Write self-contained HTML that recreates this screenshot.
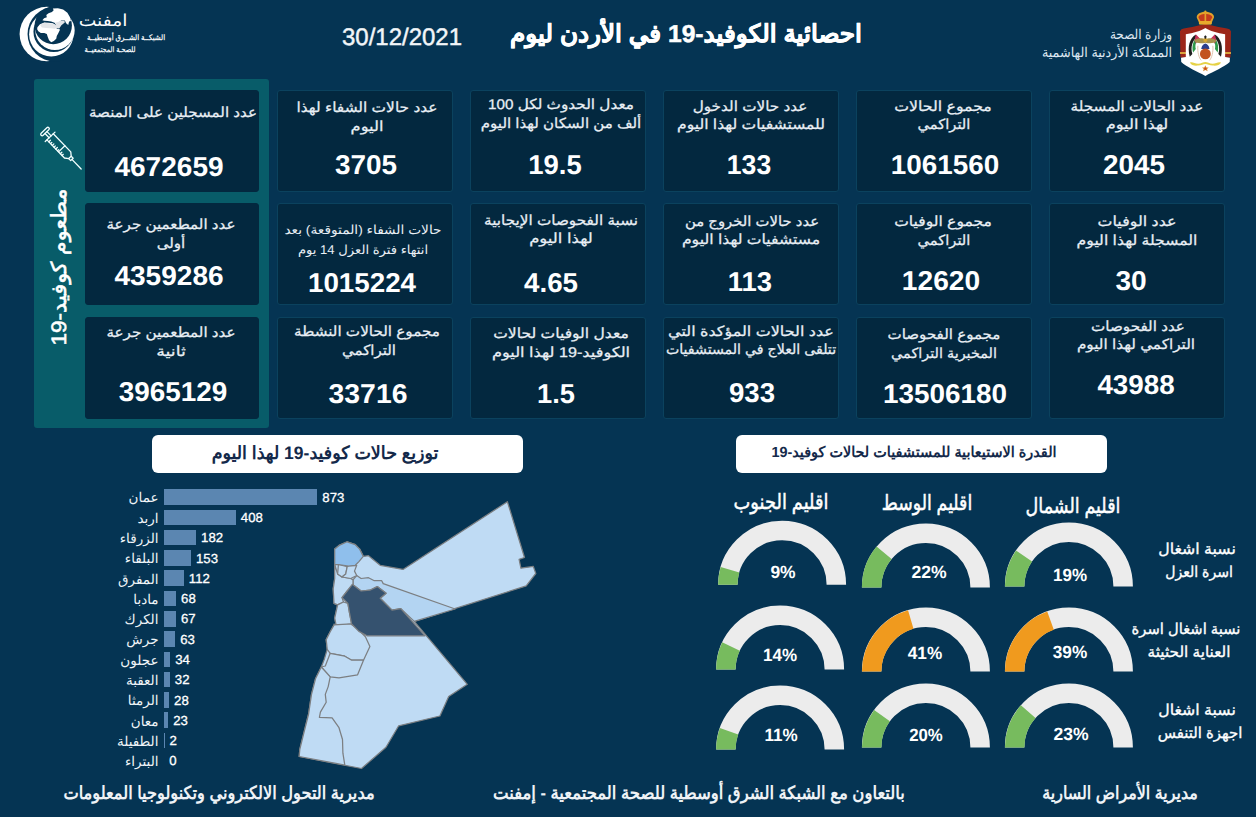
<!DOCTYPE html><html lang="ar"><head><meta charset="utf-8"><title>COVID-19 Jordan</title><style>

*{box-sizing:border-box;margin:0;padding:0}
html,body{width:1256px;height:817px;overflow:hidden}
body{background:#053453;font-family:"Liberation Sans",sans-serif;color:#fff;position:relative;text-rendering:geometricPrecision}
.abs{position:absolute}
.card{position:absolute;background:#03283f;border:1px solid #0b425e;border-radius:3px}
.tx{position:absolute;white-space:nowrap;transform-origin:50% 50%}
.c{position:absolute;white-space:nowrap;transform:translate(-50%,-50%);direction:rtl}

</style></head><body>
<div class="abs" style="left:33.5px;top:79px;width:235.5px;height:349px;background:#085c69;border-radius:3px"></div>
<!-- EMPHNET logo -->
<svg class="abs" style="left:10px;top:0;width:80px;height:70px" viewBox="0 0 934 817">
  <circle cx="430" cy="398" r="318" fill="#ffffff"/>
  <circle cx="526" cy="398" r="321" fill="#053453"/>
  <circle cx="482" cy="400" r="259" fill="#ffffff"/>
  <circle cx="510" cy="370" r="236" fill="#053453"/>
  <circle cx="525" cy="355" r="230" fill="#ffffff"/>
  <circle cx="505" cy="298" r="218" fill="#053453"/>
  <path d="M500 100 L560 95 L620 110 L670 150 L700 200 L712 245 L690 250 L680 292 L655 270 L640 240 L600 235 L572 262 L585 300 L570 332 L545 300 L520 265 L480 252 L440 246 L400 242 L378 236 L398 214 L430 200 L424 176 L450 155 L490 140 L510 120 Z" fill="#ffffff"/>
  <path d="M320 318 L350 284 L400 262 L450 266 L500 272 L530 290 L545 332 L585 345 L562 390 L546 420 L540 452 L512 480 L482 492 L456 470 L440 430 L430 396 L400 386 L360 386 L330 366 L317 340 Z" fill="#ffffff"/>
  <path d="M350 290 L400 266 L450 270 L500 276 L528 292 L540 296 L522 266 L560 258 L600 238 L636 242 L640 262 L600 296 L575 332 L545 328 L520 336 L470 330 L420 326 L372 322 Z" fill="#e3e5e8"/>
</svg>

<!-- Title + date -->

<!-- Ministry text -->

<!-- Coat of arms -->
<svg class="abs" style="left:1170px;top:0;width:70px;height:85px" viewBox="0 0 673 817">
  <!-- mantle -->
  <path d="M340 226 C250 258 170 266 110 280 L96 300 L100 552 L156 556 L156 360 L524 360 L526 556 L582 552 L586 300 L572 280 C512 266 430 258 340 226 Z" fill="#9c2619"/><path d="M96 500 H156 V520 H96 Z M526 500 H586 V520 H526 Z" fill="#d9a23a"/>
  <!-- shield -->
  <path d="M340 268 C300 296 220 316 152 330 L152 548 L106 556 L108 596 C150 640 270 690 340 730 C410 690 530 640 574 596 L576 556 L530 548 L530 330 C460 316 380 296 340 268 Z" fill="#ffffff"/>
  <!-- crown -->
  <path d="M286 234 L258 170 C250 132 296 116 340 110 C384 116 430 132 422 170 L394 234 Z" fill="#e3a02a"/>
  <path d="M294 205 L274 168 C272 146 304 136 340 134 C376 136 408 146 406 168 L386 205 Z" fill="#c43b1d"/>
  <rect x="278" y="202" width="124" height="34" rx="8" fill="#e8a92c"/>
  <circle cx="340" cy="110" r="10" fill="#e8a92c"/>
  <rect x="332" y="132" width="16" height="70" fill="#e3a02a"/>
  <!-- flags left -->
  <path d="M245 335 C190 370 165 450 190 545 L215 520 C195 450 215 390 262 350 Z" fill="#1f1f1f"/>
  <path d="M262 350 C222 392 208 440 222 505 L248 470 C238 430 250 395 285 372 Z" fill="#2f9a4b"/>
  <path d="M248 330 L290 372 C268 385 256 400 250 420 L236 390 Z" fill="#c8325a"/>
  <!-- flags right -->
  <path d="M435 335 C490 370 515 450 490 545 L465 520 C485 450 465 390 418 350 Z" fill="#1f1f1f"/>
  <path d="M418 350 C458 392 472 440 458 505 L432 470 C442 430 430 395 395 372 Z" fill="#2f9a4b"/>
  <path d="M432 330 L390 372 C412 385 424 400 430 420 L444 390 Z" fill="#c8325a"/>
  <!-- eagle -->
  <path d="M232 392 C260 360 310 362 340 378 C370 362 420 360 448 392 C430 418 380 420 340 410 C300 420 250 418 232 392 Z" fill="#a8924c"/>
  <circle cx="340" cy="385" r="20" fill="#d9a832"/>
  <path d="M328 350 L340 338 L352 350 L346 372 L334 372 Z" fill="#222"/>
  <!-- globe -->
  <path d="M300 470 C305 435 325 420 340 418 C355 420 375 435 380 470 Z" fill="#2b3f8e"/>
  <circle cx="340" cy="518" r="52" fill="#c2521f"/>
  <path d="M268 440 C262 500 280 560 300 580 M412 440 C418 500 400 560 380 580" stroke="#d9b8a0" stroke-width="8" fill="none"/>
  <!-- ribbon -->
  <path d="M192 600 C215 590 240 612 270 612 C300 612 320 596 340 596 C360 596 380 612 410 612 C440 612 465 590 490 600 C480 630 440 634 410 630 C380 628 360 616 340 616 C320 616 300 628 270 630 C240 634 202 630 192 600 Z" fill="#e6d247"/>
  <!-- medal -->
  <path d="M340 628 L350 648 L372 650 L356 664 L362 686 L340 674 L318 686 L324 664 L308 650 L330 648 Z" fill="#d9892b"/>
  <circle cx="340" cy="660" r="11" fill="#c9431f"/>
</svg>

<div class="card" style="left:84.5px;top:90.0px;width:174.3px;height:101.5px;border-color:#03283f"></div>
<div class="card" style="left:277.0px;top:90.0px;width:175.5px;height:101.5px"></div>
<div class="card" style="left:470.0px;top:90.0px;width:175.5px;height:101.5px"></div>
<div class="card" style="left:663.0px;top:90.0px;width:175.5px;height:101.5px"></div>
<div class="card" style="left:856.0px;top:90.0px;width:175.5px;height:101.5px"></div>
<div class="card" style="left:1049.0px;top:90.0px;width:175.5px;height:101.5px"></div>
<div class="card" style="left:84.5px;top:203.0px;width:174.3px;height:101.5px;border-color:#03283f"></div>
<div class="card" style="left:277.0px;top:203.0px;width:175.5px;height:101.5px"></div>
<div class="card" style="left:470.0px;top:203.0px;width:175.5px;height:101.5px"></div>
<div class="card" style="left:663.0px;top:203.0px;width:175.5px;height:101.5px"></div>
<div class="card" style="left:856.0px;top:203.0px;width:175.5px;height:101.5px"></div>
<div class="card" style="left:1049.0px;top:203.0px;width:175.5px;height:101.5px"></div>
<div class="card" style="left:84.5px;top:317.0px;width:174.3px;height:101.5px;border-color:#03283f"></div>
<div class="card" style="left:277.0px;top:317.0px;width:175.5px;height:101.5px"></div>
<div class="card" style="left:470.0px;top:317.0px;width:175.5px;height:101.5px"></div>
<div class="card" style="left:663.0px;top:317.0px;width:175.5px;height:101.5px"></div>
<div class="card" style="left:856.0px;top:317.0px;width:175.5px;height:101.5px"></div>
<div class="card" style="left:1049.0px;top:317.0px;width:175.5px;height:101.5px"></div>
<!-- syringe icon -->
<svg class="abs" style="left:34px;top:115px;width:56px;height:60px" viewBox="34 115 56 60">
  <g transform="translate(44 130.5) rotate(46)" fill="none" stroke="#f4ffff" stroke-width="1.3" stroke-linecap="round" stroke-linejoin="round">
    <rect x="0" y="-5.4" width="2.9" height="10.8" rx="1.45"/>
    <path d="M2.9 -1.4 H8.8 M2.9 1.4 H8.8"/>
    <path d="M8.8 -6.8 V6.8"/>
    <path d="M8.8 -4.4 H34 L37.4 -1.7 V1.7 L34 4.4 H8.8"/>
    <path d="M25.5 -4.4 V4.4"/>
    <path d="M37.4 -1.7 H40.2 V1.7 H37.4"/>
    <path d="M40.2 0 H53.5"/>
    <path d="M11.5 4.4 V2.2 M14 4.4 V2.7 M16.5 4.4 V2.2 M19 4.4 V2.7 M21.5 4.4 V2.2 M24 4.4 V2.7 M28 4.4 V2.2 M30.5 4.4 V2.7"/>
  </g>
</svg>
<div class="c" id="vtxt" style="left:60.3px;top:267.2px;font-size:21px;line-height:24px;font-weight:normal;-webkit-text-stroke:0.55px #fff;color:#fff;transform:translate(-50%,-50%) rotate(-90deg) scaleX(1.07)">مطعوم كوفيد-19</div>

<div class="abs" style="left:151.5px;top:435px;width:371px;height:37.5px;background:#fff;border-radius:6px"></div>
<div class="abs" style="left:735.5px;top:435px;width:371px;height:37.5px;background:#fff;border-radius:6px"></div>
<div class="abs" style="left:164.2px;top:489.3px;width:153.1px;height:15.5px;background:#5b86b1"></div>
<div class="abs bl" style="left:50px;width:108.5px;top:488.4px;height:19.5px;line-height:19.5px;text-align:right;direction:rtl;font-size:13.5px;color:#f0f4f8;white-space:nowrap">عمان</div>
<div class="abs bv" style="left:322.3px;top:487.7px;height:19.5px;line-height:19.5px;font-size:13.2px;color:#fff;-webkit-text-stroke:0.3px #fff;white-space:nowrap">873</div>
<div class="abs" style="left:164.2px;top:509.6px;width:71.6px;height:15.5px;background:#5b86b1"></div>
<div class="abs bl" style="left:50px;width:108.5px;top:508.7px;height:19.5px;line-height:19.5px;text-align:right;direction:rtl;font-size:13.5px;color:#f0f4f8;white-space:nowrap">اربد</div>
<div class="abs bv" style="left:240.8px;top:508.0px;height:19.5px;line-height:19.5px;font-size:13.2px;color:#fff;-webkit-text-stroke:0.3px #fff;white-space:nowrap">408</div>
<div class="abs" style="left:164.2px;top:529.9px;width:31.9px;height:15.5px;background:#5b86b1"></div>
<div class="abs bl" style="left:50px;width:108.5px;top:529.0px;height:19.5px;line-height:19.5px;text-align:right;direction:rtl;font-size:13.5px;color:#f0f4f8;white-space:nowrap">الزرقاء</div>
<div class="abs bv" style="left:201.1px;top:528.3px;height:19.5px;line-height:19.5px;font-size:13.2px;color:#fff;-webkit-text-stroke:0.3px #fff;white-space:nowrap">182</div>
<div class="abs" style="left:164.2px;top:550.1px;width:26.8px;height:15.5px;background:#5b86b1"></div>
<div class="abs bl" style="left:50px;width:108.5px;top:549.2px;height:19.5px;line-height:19.5px;text-align:right;direction:rtl;font-size:13.5px;color:#f0f4f8;white-space:nowrap">البلقاء</div>
<div class="abs bv" style="left:196.0px;top:548.5px;height:19.5px;line-height:19.5px;font-size:13.2px;color:#fff;-webkit-text-stroke:0.3px #fff;white-space:nowrap">153</div>
<div class="abs" style="left:164.2px;top:570.4px;width:19.6px;height:15.5px;background:#5b86b1"></div>
<div class="abs bl" style="left:50px;width:108.5px;top:569.5px;height:19.5px;line-height:19.5px;text-align:right;direction:rtl;font-size:13.5px;color:#f0f4f8;white-space:nowrap">المفرق</div>
<div class="abs bv" style="left:188.8px;top:568.8px;height:19.5px;line-height:19.5px;font-size:13.2px;color:#fff;-webkit-text-stroke:0.3px #fff;white-space:nowrap">112</div>
<div class="abs" style="left:164.2px;top:590.7px;width:11.9px;height:15.5px;background:#5b86b1"></div>
<div class="abs bl" style="left:50px;width:108.5px;top:589.8px;height:19.5px;line-height:19.5px;text-align:right;direction:rtl;font-size:13.5px;color:#f0f4f8;white-space:nowrap">مادبا</div>
<div class="abs bv" style="left:181.1px;top:589.1px;height:19.5px;line-height:19.5px;font-size:13.2px;color:#fff;-webkit-text-stroke:0.3px #fff;white-space:nowrap">68</div>
<div class="abs" style="left:164.2px;top:611.0px;width:11.7px;height:15.5px;background:#5b86b1"></div>
<div class="abs bl" style="left:50px;width:108.5px;top:610.1px;height:19.5px;line-height:19.5px;text-align:right;direction:rtl;font-size:13.5px;color:#f0f4f8;white-space:nowrap">الكرك</div>
<div class="abs bv" style="left:180.9px;top:609.4px;height:19.5px;line-height:19.5px;font-size:13.2px;color:#fff;-webkit-text-stroke:0.3px #fff;white-space:nowrap">67</div>
<div class="abs" style="left:164.2px;top:631.3px;width:11.0px;height:15.5px;background:#5b86b1"></div>
<div class="abs bl" style="left:50px;width:108.5px;top:630.4px;height:19.5px;line-height:19.5px;text-align:right;direction:rtl;font-size:13.5px;color:#f0f4f8;white-space:nowrap">جرش</div>
<div class="abs bv" style="left:180.2px;top:629.7px;height:19.5px;line-height:19.5px;font-size:13.2px;color:#fff;-webkit-text-stroke:0.3px #fff;white-space:nowrap">63</div>
<div class="abs" style="left:164.2px;top:651.5px;width:6.0px;height:15.5px;background:#5b86b1"></div>
<div class="abs bl" style="left:50px;width:108.5px;top:650.6px;height:19.5px;line-height:19.5px;text-align:right;direction:rtl;font-size:13.5px;color:#f0f4f8;white-space:nowrap">عجلون</div>
<div class="abs bv" style="left:175.2px;top:649.9px;height:19.5px;line-height:19.5px;font-size:13.2px;color:#fff;-webkit-text-stroke:0.3px #fff;white-space:nowrap">34</div>
<div class="abs" style="left:164.2px;top:671.8px;width:5.6px;height:15.5px;background:#5b86b1"></div>
<div class="abs bl" style="left:50px;width:108.5px;top:670.9px;height:19.5px;line-height:19.5px;text-align:right;direction:rtl;font-size:13.5px;color:#f0f4f8;white-space:nowrap">العقبة</div>
<div class="abs bv" style="left:174.8px;top:670.2px;height:19.5px;line-height:19.5px;font-size:13.2px;color:#fff;-webkit-text-stroke:0.3px #fff;white-space:nowrap">32</div>
<div class="abs" style="left:164.2px;top:692.1px;width:4.9px;height:15.5px;background:#5b86b1"></div>
<div class="abs bl" style="left:50px;width:108.5px;top:691.2px;height:19.5px;line-height:19.5px;text-align:right;direction:rtl;font-size:13.5px;color:#f0f4f8;white-space:nowrap">الرمثا</div>
<div class="abs bv" style="left:174.1px;top:690.5px;height:19.5px;line-height:19.5px;font-size:13.2px;color:#fff;-webkit-text-stroke:0.3px #fff;white-space:nowrap">28</div>
<div class="abs" style="left:164.2px;top:712.4px;width:4.0px;height:15.5px;background:#5b86b1"></div>
<div class="abs bl" style="left:50px;width:108.5px;top:711.5px;height:19.5px;line-height:19.5px;text-align:right;direction:rtl;font-size:13.5px;color:#f0f4f8;white-space:nowrap">معان</div>
<div class="abs bv" style="left:173.2px;top:710.8px;height:19.5px;line-height:19.5px;font-size:13.2px;color:#fff;-webkit-text-stroke:0.3px #fff;white-space:nowrap">23</div>
<div class="abs" style="left:164.2px;top:732.7px;width:0.6px;height:15.5px;background:#5b86b1"></div>
<div class="abs bl" style="left:50px;width:108.5px;top:731.8px;height:19.5px;line-height:19.5px;text-align:right;direction:rtl;font-size:13.5px;color:#f0f4f8;white-space:nowrap">الطفيلة</div>
<div class="abs bv" style="left:169.6px;top:731.1px;height:19.5px;line-height:19.5px;font-size:13.2px;color:#fff;-webkit-text-stroke:0.3px #fff;white-space:nowrap">2</div>
<div class="abs bl" style="left:50px;width:108.5px;top:752.0px;height:19.5px;line-height:19.5px;text-align:right;direction:rtl;font-size:13.5px;color:#f0f4f8;white-space:nowrap">البتراء</div>
<div class="abs bv" style="left:169.2px;top:751.3px;height:19.5px;line-height:19.5px;font-size:13.2px;color:#fff;-webkit-text-stroke:0.3px #fff;white-space:nowrap">0</div>
<svg class="abs" style="left:290px;top:490px;width:260px;height:290px" viewBox="290 490 260 290">
<path d="M507.4 501.7 L524.5 557.5 L519.1 559.3 L520.9 568.2 L533.3 566.4 L535.8 573.5 L526.2 585.9 L414.3 621.4 L467.3 684.3 L448.7 696.4 L439.9 716.0 L398.7 725.8 L386.0 747.3 L361.5 768.5 L299.2 756.5 L299.8 749.3 L303.7 733.6 L308.6 714.0 L311.5 694.4 L315.5 678.8 L321.3 667.0 L324.3 659.2 L327.2 649.4 L326.2 639.6 L330.2 631.8 L334.1 624.9 L334.0 624.0 L336.2 625.5 L334.7 618.1 L337.6 604.9 L334.0 603.4 L333.2 588.8 L334.7 578.5 L334.7 564.5 L334.7 549.1 L339.1 545.4 L347.2 541.8 L355.3 544.7 L359.7 549.1 L363.3 556.4 L368.5 555.7 L380.2 565.3 L403.0 569.4 Z" fill="#bfdbf4" stroke="#7c7f82" stroke-width="1.25" stroke-linejoin="round"/>
<path d="M353.0 579.9 L356.7 575.5 L361.1 578.5 L368.5 577.7 L374.3 580.7 L381.7 580.7 L383.2 583.6 L455.2 609.0 L414.3 621.4 L400.8 608.6 L392.0 610.1 L380.2 598.3 L386.1 593.2 L377.3 586.6 L369.9 590.2 L361.1 591.0 L352.3 584.3 L353.0 585.1 Z" fill="#b3d4f2" stroke="#7c7f82" stroke-width="1.25" stroke-linejoin="round"/>
<path d="M334.7 564.5 L337.6 574.1 L342.0 577.0 L350.8 578.5 L353.0 579.9 L353.0 585.1 L347.2 591.0 L342.0 597.6 L343.5 602.0 L337.6 604.9 L334.0 603.4 L333.2 588.8 L334.7 578.5 Z" fill="#bfdbf4" stroke="#7c7f82" stroke-width="1.25" stroke-linejoin="round"/>
<path d="M337.6 604.9 L343.5 602.0 L347.9 603.4 L349.4 612.3 L351.6 624.0 L336.2 625.5 L334.7 618.1 Z" fill="#bfdbf4" stroke="#7c7f82" stroke-width="1.25" stroke-linejoin="round"/>
<path d="M334.1 624.9 L350.7 623.9 L356.6 627.8 L365.4 636.7 L369.9 646.4 L363.5 660.2 L351.7 660.2 L344.8 656.2 L330.2 653.3 L327.2 649.4 L326.2 639.6 L330.2 631.8 Z" fill="#bfdbf4" stroke="#7c7f82" stroke-width="1.25" stroke-linejoin="round"/>
<path d="M330.2 653.3 L344.8 656.2 L351.7 660.2 L363.5 660.2 L357.6 674.8 L339.0 677.8 L330.2 676.8 L321.3 667.0 L325.3 666.0 Z" fill="#bfdbf4" stroke="#7c7f82" stroke-width="1.25" stroke-linejoin="round"/>
<path d="M330.2 676.8 L328.2 686.6 L325.3 694.4 L326.2 702.3 L320.4 712.1 L319.4 717.4 L332.1 717.9 L339.0 727.7 L342.5 739.5 L342.9 753.2 L344.8 765.0 L299.2 756.5 L299.8 749.3 L303.7 733.6 L308.6 714.0 L311.5 694.4 L315.5 678.8 L321.3 667.0 Z" fill="#bfdbf4" stroke="#7c7f82" stroke-width="1.25" stroke-linejoin="round"/>
<path d="M338.4 564.5 L347.2 566.7 L345.7 574.1 L342.0 577.0 L337.6 574.1 Z" fill="#bfdbf4" stroke="#7c7f82" stroke-width="1.25" stroke-linejoin="round"/>
<path d="M348.6 566.0 L356.7 565.3 L354.5 571.1 L356.7 575.5 L350.8 578.5 L342.0 577.0 L345.7 574.1 L347.2 566.7 Z" fill="#bfdbf4" stroke="#7c7f82" stroke-width="1.25" stroke-linejoin="round"/>
<path d="M334.7 549.1 L339.1 545.4 L347.2 541.8 L355.3 544.7 L359.7 549.1 L363.3 556.4 L358.9 561.6 L355.3 565.3 L348.6 566.0 L338.4 564.5 L334.7 564.5 Z" fill="#8fbfec" stroke="#7c7f82" stroke-width="1.25" stroke-linejoin="round"/>
<path d="M342.0 597.6 L347.2 591.0 L352.3 584.3 L361.1 591.0 L369.9 590.2 L377.3 586.6 L386.1 593.2 L380.2 598.3 L392.0 610.1 L400.8 608.6 L425.0 635.8 L367.0 635.8 L358.9 631.4 L351.6 624.0 L349.4 612.3 L347.9 603.4 Z" fill="#35526f" stroke="#7c7f82" stroke-width="1.25" stroke-linejoin="round"/>
</svg>
<svg class="abs" style="left:700px;top:510px;width:450px;height:250px" viewBox="700 510 450 250">
<path d="M727.85 584.80 A54.25 54.25 0 0 1 836.35 584.80" fill="none" stroke="#ececec" stroke-width="19.5"/>
<path d="M727.85 584.80 A54.25 54.25 0 0 1 730.00 569.66" fill="none" stroke="#77bb5e" stroke-width="19.5"/>
<path d="M871.65 587.40 A54.25 54.25 0 0 1 980.15 587.40" fill="none" stroke="#ececec" stroke-width="19.5"/>
<path d="M871.65 587.40 A54.25 54.25 0 0 1 884.10 552.82" fill="none" stroke="#77bb5e" stroke-width="19.5"/>
<path d="M1014.65 586.50 A54.25 54.25 0 0 1 1123.15 586.50" fill="none" stroke="#ececec" stroke-width="19.5"/>
<path d="M1014.65 586.50 A54.25 54.25 0 0 1 1024.03 556.01" fill="none" stroke="#77bb5e" stroke-width="19.5"/>
<path d="M725.85 669.60 A54.25 54.25 0 0 1 834.35 669.60" fill="none" stroke="#ececec" stroke-width="19.5"/>
<path d="M725.85 669.60 A54.25 54.25 0 0 1 731.01 646.50" fill="none" stroke="#77bb5e" stroke-width="19.5"/>
<path d="M871.65 671.60 A54.25 54.25 0 0 1 980.15 671.60" fill="none" stroke="#ececec" stroke-width="19.5"/>
<path d="M871.65 671.60 A54.25 54.25 0 0 1 910.76 619.50" fill="none" stroke="#f09a1e" stroke-width="19.5"/>
<path d="M1014.65 671.60 A54.25 54.25 0 0 1 1123.15 671.60" fill="none" stroke="#ececec" stroke-width="19.5"/>
<path d="M1014.65 671.60 A54.25 54.25 0 0 1 1050.52 620.56" fill="none" stroke="#f09a1e" stroke-width="19.5"/>
<path d="M725.85 749.60 A54.25 54.25 0 0 1 834.35 749.60" fill="none" stroke="#ececec" stroke-width="19.5"/>
<path d="M725.85 749.60 A54.25 54.25 0 0 1 729.06 731.22" fill="none" stroke="#77bb5e" stroke-width="19.5"/>
<path d="M871.65 747.50 A54.25 54.25 0 0 1 980.15 747.50" fill="none" stroke="#ececec" stroke-width="19.5"/>
<path d="M871.65 747.50 A54.25 54.25 0 0 1 882.01 715.61" fill="none" stroke="#77bb5e" stroke-width="19.5"/>
<path d="M1014.65 747.50 A54.25 54.25 0 0 1 1123.15 747.50" fill="none" stroke="#ececec" stroke-width="19.5"/>
<path d="M1014.65 747.50 A54.25 54.25 0 0 1 1028.21 711.62" fill="none" stroke="#77bb5e" stroke-width="19.5"/>
</svg>

<div id="c00a" class="tx" style="left:172.60px;top:102.65px;font-size:14px;line-height:18px;color:#e9eff5;-webkit-text-stroke:0.25px #e9eff5;direction:rtl;transform:translateX(-50%) scaleX(1.0793)">عدد المسجلين على المنصة</div>
<div id="c00v" class="tx" style="left:168.60px;top:148.81px;font-size:27.3px;line-height:35px;font-weight:bold;color:#fff;direction:ltr;transform:translateX(-50%) scaleX(1.0274)">4672659</div>
<div id="c10a" class="tx" style="left:367.30px;top:98.15px;font-size:14px;line-height:18px;color:#e9eff5;-webkit-text-stroke:0.25px #e9eff5;direction:rtl;transform:translateX(-50%) scaleX(1.0998)">عدد حالات الشفاء لهذا</div>
<div id="c10b" class="tx" style="left:367.40px;top:117.05px;font-size:14px;line-height:18px;color:#e9eff5;-webkit-text-stroke:0.25px #e9eff5;direction:rtl;transform:translateX(-50%) scaleX(1.1623)">اليوم</div>
<div id="c10v" class="tx" style="left:366.20px;top:147.31px;font-size:27.3px;line-height:35px;font-weight:bold;color:#fff;direction:ltr;transform:translateX(-50%) scaleX(1.0212)">3705</div>
<div id="c20a" class="tx" style="left:561.10px;top:95.45px;font-size:14px;line-height:18px;color:#e9eff5;-webkit-text-stroke:0.25px #e9eff5;direction:rtl;transform:translateX(-50%) scaleX(1.0892)">معدل الحدوث لكل 100</div>
<div id="c20b" class="tx" style="left:560.80px;top:113.85px;font-size:14px;line-height:18px;color:#e9eff5;-webkit-text-stroke:0.25px #e9eff5;direction:rtl;transform:translateX(-50%) scaleX(1.0727)">ألف من السكان لهذا اليوم</div>
<div id="c20v" class="tx" style="left:554.90px;top:147.31px;font-size:27.3px;line-height:35px;font-weight:bold;color:#fff;direction:ltr;transform:translateX(-50%) scaleX(1.0057)">19.5</div>
<div id="c30a" class="tx" style="left:750.30px;top:96.85px;font-size:14px;line-height:18px;color:#e9eff5;-webkit-text-stroke:0.25px #e9eff5;direction:rtl;transform:translateX(-50%) scaleX(1.0878)">عدد حالات الدخول</div>
<div id="c30b" class="tx" style="left:750.80px;top:114.95px;font-size:14px;line-height:18px;color:#e9eff5;-webkit-text-stroke:0.25px #e9eff5;direction:rtl;transform:translateX(-50%) scaleX(1.1131)">للمستشفيات لهذا اليوم</div>
<div id="c30v" class="tx" style="left:749.30px;top:147.31px;font-size:27.3px;line-height:35px;font-weight:bold;color:#fff;direction:ltr;transform:translateX(-50%) scaleX(0.9719)">133</div>
<div id="c40a" class="tx" style="left:943.00px;top:96.85px;font-size:14px;line-height:18px;color:#e9eff5;-webkit-text-stroke:0.25px #e9eff5;direction:rtl;transform:translateX(-50%) scaleX(1.1258)">مجموع الحالات</div>
<div id="c40b" class="tx" style="left:944.20px;top:115.45px;font-size:14px;line-height:18px;color:#e9eff5;-webkit-text-stroke:0.25px #e9eff5;direction:rtl;transform:translateX(-50%) scaleX(1.0480)">التراكمي</div>
<div id="c40v" class="tx" style="left:944.80px;top:147.21px;font-size:27.3px;line-height:35px;font-weight:bold;color:#fff;direction:ltr;transform:translateX(-50%) scaleX(1.0205)">1061560</div>
<div id="c50a" class="tx" style="left:1136.60px;top:96.85px;font-size:14px;line-height:18px;color:#e9eff5;-webkit-text-stroke:0.25px #e9eff5;direction:rtl;transform:translateX(-50%) scaleX(1.0864)">عدد الحالات المسجلة</div>
<div id="c50b" class="tx" style="left:1137.10px;top:115.45px;font-size:14px;line-height:18px;color:#e9eff5;-webkit-text-stroke:0.25px #e9eff5;direction:rtl;transform:translateX(-50%) scaleX(1.1569)">لهذا اليوم</div>
<div id="c50v" class="tx" style="left:1134.20px;top:147.31px;font-size:27.3px;line-height:35px;font-weight:bold;color:#fff;direction:ltr;transform:translateX(-50%) scaleX(1.0212)">2045</div>
<div id="c01a" class="tx" style="left:171.10px;top:215.45px;font-size:14px;line-height:18px;color:#e9eff5;-webkit-text-stroke:0.25px #e9eff5;direction:rtl;transform:translateX(-50%) scaleX(1.0806)">عدد المطعمين جرعة</div>
<div id="c01b" class="tx" style="left:171.10px;top:234.05px;font-size:14px;line-height:18px;color:#e9eff5;-webkit-text-stroke:0.25px #e9eff5;direction:rtl;transform:translateX(-50%) scaleX(1.0763)">أولى</div>
<div id="c01v" class="tx" style="left:168.60px;top:257.71px;font-size:27.3px;line-height:35px;font-weight:bold;color:#fff;direction:ltr;transform:translateX(-50%) scaleX(1.0276)">4359286</div>
<div id="c11a" class="tx" style="left:363.00px;top:221.63px;font-size:12.6px;line-height:16px;color:#e9eff5;direction:rtl;transform:translateX(-50%) scaleX(1.0901)">حالات الشفاء (المتوقعة) بعد</div>
<div id="c11b" class="tx" style="left:362.90px;top:241.63px;font-size:12.6px;line-height:16px;color:#e9eff5;direction:rtl;transform:translateX(-50%) scaleX(1.0411)">انتهاء فترة العزل 14 يوم</div>
<div id="c11v" class="tx" style="left:362.20px;top:265.11px;font-size:27.3px;line-height:35px;font-weight:bold;color:#fff;direction:ltr;transform:translateX(-50%) scaleX(1.0163)">1015224</div>
<div id="c21a" class="tx" style="left:560.80px;top:210.85px;font-size:14px;line-height:18px;color:#e9eff5;-webkit-text-stroke:0.25px #e9eff5;direction:rtl;transform:translateX(-50%) scaleX(1.0889)">نسبة الفحوصات الإيجابية</div>
<div id="c21b" class="tx" style="left:561.00px;top:229.45px;font-size:14px;line-height:18px;color:#e9eff5;-webkit-text-stroke:0.25px #e9eff5;direction:rtl;transform:translateX(-50%) scaleX(1.1759)">لهذا اليوم</div>
<div id="c21v" class="tx" style="left:551.40px;top:264.71px;font-size:27.3px;line-height:35px;font-weight:bold;color:#fff;direction:ltr;transform:translateX(-50%) scaleX(1.0164)">4.65</div>
<div id="c31a" class="tx" style="left:751.80px;top:211.75px;font-size:14px;line-height:18px;color:#e9eff5;-webkit-text-stroke:0.25px #e9eff5;direction:rtl;transform:translateX(-50%) scaleX(1.0589)">عدد حالات الخروج من</div>
<div id="c31b" class="tx" style="left:751.30px;top:230.35px;font-size:14px;line-height:18px;color:#e9eff5;-webkit-text-stroke:0.25px #e9eff5;direction:rtl;transform:translateX(-50%) scaleX(1.1193)">مستشفيات لهذا اليوم</div>
<div id="c31v" class="tx" style="left:750.30px;top:263.71px;font-size:27.3px;line-height:35px;font-weight:bold;color:#fff;direction:ltr;transform:translateX(-50%) scaleX(1.0050)">113</div>
<div id="c41a" class="tx" style="left:943.00px;top:211.85px;font-size:14px;line-height:18px;color:#e9eff5;-webkit-text-stroke:0.25px #e9eff5;direction:rtl;transform:translateX(-50%) scaleX(1.1114)">مجموع الوفيات</div>
<div id="c41b" class="tx" style="left:944.20px;top:230.85px;font-size:14px;line-height:18px;color:#e9eff5;-webkit-text-stroke:0.25px #e9eff5;direction:rtl;transform:translateX(-50%) scaleX(1.0480)">التراكمي</div>
<div id="c41v" class="tx" style="left:941.30px;top:262.91px;font-size:27.3px;line-height:35px;font-weight:bold;color:#fff;direction:ltr;transform:translateX(-50%) scaleX(1.0311)">12620</div>
<div id="c51a" class="tx" style="left:1136.60px;top:211.85px;font-size:14px;line-height:18px;color:#e9eff5;-webkit-text-stroke:0.25px #e9eff5;direction:rtl;transform:translateX(-50%) scaleX(1.1333)">عدد الوفيات</div>
<div id="c51b" class="tx" style="left:1136.60px;top:230.85px;font-size:14px;line-height:18px;color:#e9eff5;-webkit-text-stroke:0.25px #e9eff5;direction:rtl;transform:translateX(-50%) scaleX(1.1195)">المسجلة لهذا اليوم</div>
<div id="c51v" class="tx" style="left:1131.20px;top:262.91px;font-size:27.3px;line-height:35px;font-weight:bold;color:#fff;direction:ltr;transform:translateX(-50%) scaleX(1.0288)">30</div>
<div id="c02a" class="tx" style="left:171.10px;top:323.35px;font-size:14px;line-height:18px;color:#e9eff5;-webkit-text-stroke:0.25px #e9eff5;direction:rtl;transform:translateX(-50%) scaleX(1.0806)">عدد المطعمين جرعة</div>
<div id="c02b" class="tx" style="left:171.20px;top:341.95px;font-size:14px;line-height:18px;color:#e9eff5;-webkit-text-stroke:0.25px #e9eff5;direction:rtl;transform:translateX(-50%) scaleX(1.2474)">ثانية</div>
<div id="c02v" class="tx" style="left:172.70px;top:374.41px;font-size:27.3px;line-height:35px;font-weight:bold;color:#fff;direction:ltr;transform:translateX(-50%) scaleX(1.0219)">3965129</div>
<div id="c12a" class="tx" style="left:367.10px;top:321.55px;font-size:14px;line-height:18px;color:#e9eff5;-webkit-text-stroke:0.25px #e9eff5;direction:rtl;transform:translateX(-50%) scaleX(1.0843)">مجموع الحالات النشطة</div>
<div id="c12b" class="tx" style="left:368.60px;top:341.05px;font-size:14px;line-height:18px;color:#e9eff5;-webkit-text-stroke:0.25px #e9eff5;direction:rtl;transform:translateX(-50%) scaleX(1.0719)">التراكمي</div>
<div id="c12v" class="tx" style="left:367.60px;top:376.31px;font-size:27.3px;line-height:35px;font-weight:bold;color:#fff;direction:ltr;transform:translateX(-50%) scaleX(1.0385)">33716</div>
<div id="c22a" class="tx" style="left:560.80px;top:323.85px;font-size:14px;line-height:18px;color:#e9eff5;-webkit-text-stroke:0.25px #e9eff5;direction:rtl;transform:translateX(-50%) scaleX(1.1114)">معدل الوفيات لحالات</div>
<div id="c22b" class="tx" style="left:560.50px;top:343.35px;font-size:14px;line-height:18px;color:#e9eff5;-webkit-text-stroke:0.25px #e9eff5;direction:rtl;transform:translateX(-50%) scaleX(1.1551)">الكوفيد-19 لهذا اليوم</div>
<div id="c22v" class="tx" style="left:556.30px;top:376.31px;font-size:27.3px;line-height:35px;font-weight:bold;color:#fff;direction:ltr;transform:translateX(-50%) scaleX(0.9982)">1.5</div>
<div id="c32a" class="tx" style="left:750.50px;top:321.55px;font-size:14px;line-height:18px;color:#e9eff5;-webkit-text-stroke:0.25px #e9eff5;direction:rtl;transform:translateX(-50%) scaleX(1.1427)">عدد الحالات المؤكدة التي</div>
<div id="c32b" class="tx" style="left:751.10px;top:339.65px;font-size:14px;line-height:18px;color:#e9eff5;-webkit-text-stroke:0.25px #e9eff5;direction:rtl;transform:translateX(-50%) scaleX(1.0128)">تتلقى العلاج في المستشفيات</div>
<div id="c32v" class="tx" style="left:752.20px;top:375.41px;font-size:27.3px;line-height:35px;font-weight:bold;color:#fff;direction:ltr;transform:translateX(-50%) scaleX(1.0108)">933</div>
<div id="c42a" class="tx" style="left:944.00px;top:324.85px;font-size:14px;line-height:18px;color:#e9eff5;-webkit-text-stroke:0.25px #e9eff5;direction:rtl;transform:translateX(-50%) scaleX(1.0749)">مجموع الفحوصات</div>
<div id="c42b" class="tx" style="left:943.70px;top:343.55px;font-size:14px;line-height:18px;color:#e9eff5;-webkit-text-stroke:0.25px #e9eff5;direction:rtl;transform:translateX(-50%) scaleX(1.0278)">المخبرية التراكمي</div>
<div id="c42v" class="tx" style="left:945.40px;top:375.51px;font-size:27.3px;line-height:35px;font-weight:bold;color:#fff;direction:ltr;transform:translateX(-50%) scaleX(1.0214)">13506180</div>
<div id="c52a" class="tx" style="left:1138.10px;top:316.55px;font-size:14px;line-height:18px;color:#e9eff5;-webkit-text-stroke:0.25px #e9eff5;direction:rtl;transform:translateX(-50%) scaleX(1.0828)">عدد الفحوصات</div>
<div id="c52b" class="tx" style="left:1136.30px;top:335.15px;font-size:14px;line-height:18px;color:#e9eff5;-webkit-text-stroke:0.25px #e9eff5;direction:rtl;transform:translateX(-50%) scaleX(1.0901)">التراكمي لهذا اليوم</div>
<div id="c52v" class="tx" style="left:1135.80px;top:367.11px;font-size:27.3px;line-height:35px;font-weight:bold;color:#fff;direction:ltr;transform:translateX(-50%) scaleX(1.0172)">43988</div>
<div id="date" class="tx" style="left:402.40px;top:21.98px;font-size:24px;line-height:31px;color:#f3f6f9;-webkit-text-stroke:0.45px #f3f6f9;direction:ltr;transform:translateX(-50%) scaleX(0.9990)">30/12/2021</div>
<div id="title" class="tx" style="left:686.00px;top:19.11px;font-size:24.5px;line-height:32px;font-weight:bold;color:#fff;-webkit-text-stroke:0.5px #fff;direction:rtl;transform:translateX(-50%) scaleX(1.0072)">احصائية الكوفيد-19 في الأردن ليوم</div>
<div id="min1" class="tx" style="left:1141.10px;top:25.82px;font-size:13.5px;line-height:18px;color:#dde7f1;direction:rtl;transform:translateX(-50%) scaleX(0.8934)">وزارة الصحة</div>
<div id="min2" class="tx" style="left:1107.10px;top:43.62px;font-size:13.5px;line-height:18px;color:#dde7f1;direction:rtl;transform:translateX(-50%) scaleX(0.9447)">المملكة الأردنية الهاشمية</div>
<div id="emph1" class="tx" style="left:102.90px;top:11.38px;font-size:16.5px;line-height:21px;color:#fff;direction:rtl;transform:translateX(-50%) scaleX(1.1344)">امفنت</div>
<div id="h1" class="tx" style="left:325.00px;top:441.66px;font-size:18px;line-height:23px;font-weight:bold;color:#14294a;direction:rtl;transform:translateX(-50%) scaleX(0.9712)">توزيع حالات كوفيد-19 لهذا اليوم</div>
<div id="h2" class="tx" style="left:914.20px;top:443.81px;font-size:14.7px;line-height:19px;font-weight:bold;color:#14294a;direction:rtl;transform:translateX(-50%) scaleX(0.9810)">القدرة الاستيعابية للمستشفيات لحالات كوفيد-19</div>
<div id="r1" class="tx" style="left:781.40px;top:489.32px;font-size:21px;line-height:27px;color:#fff;-webkit-text-stroke:0.5px #fff;direction:rtl;transform:translateX(-50%) scaleX(0.8490)">اقليم الجنوب</div>
<div id="r2" class="tx" style="left:927.00px;top:490.32px;font-size:21px;line-height:27px;color:#fff;-webkit-text-stroke:0.5px #fff;direction:rtl;transform:translateX(-50%) scaleX(0.8252)">اقليم الوسط</div>
<div id="r3" class="tx" style="left:1073.40px;top:492.62px;font-size:21px;line-height:27px;color:#fff;-webkit-text-stroke:0.5px #fff;direction:rtl;transform:translateX(-50%) scaleX(0.8335)">اقليم الشمال</div>
<div id="l1" class="tx" style="left:1197.20px;top:540.30px;font-size:15.3px;line-height:20px;color:#fff;-webkit-text-stroke:0.35px #fff;direction:rtl;transform:translateX(-50%) scaleX(1.0327)">نسبة اشغال</div>
<div id="l2" class="tx" style="left:1199.40px;top:562.60px;font-size:15.3px;line-height:20px;color:#fff;-webkit-text-stroke:0.35px #fff;direction:rtl;transform:translateX(-50%) scaleX(0.9191)">اسرة العزل</div>
<div id="l3" class="tx" style="left:1186.20px;top:620.20px;font-size:15.3px;line-height:20px;color:#fff;-webkit-text-stroke:0.35px #fff;direction:rtl;transform:translateX(-50%) scaleX(0.9633)">نسبة اشغال اسرة</div>
<div id="l4" class="tx" style="left:1189.00px;top:642.60px;font-size:15.3px;line-height:20px;color:#fff;-webkit-text-stroke:0.35px #fff;direction:rtl;transform:translateX(-50%) scaleX(0.9965)">العناية الحثيثة</div>
<div id="l5" class="tx" style="left:1197.20px;top:701.00px;font-size:15.3px;line-height:20px;color:#fff;-webkit-text-stroke:0.35px #fff;direction:rtl;transform:translateX(-50%) scaleX(1.0327)">نسبة اشغال</div>
<div id="l6" class="tx" style="left:1199.50px;top:724.10px;font-size:15.3px;line-height:20px;color:#fff;-webkit-text-stroke:0.35px #fff;direction:rtl;transform:translateX(-50%) scaleX(0.9743)">اجهزة التنفس</div>
<div id="g1" class="tx" style="left:782.60px;top:561.17px;font-size:17.7px;line-height:23px;font-weight:bold;color:#fff;direction:ltr;transform:translateX(-50%) scaleX(0.9861)">9%</div>
<div id="g2" class="tx" style="left:929.40px;top:560.87px;font-size:17.7px;line-height:23px;font-weight:bold;color:#fff;direction:ltr;transform:translateX(-50%) scaleX(0.9946)">22%</div>
<div id="g3" class="tx" style="left:1069.80px;top:563.97px;font-size:17.7px;line-height:23px;font-weight:bold;color:#fff;direction:ltr;transform:translateX(-50%) scaleX(0.9611)">19%</div>
<div id="g4" class="tx" style="left:780.40px;top:643.67px;font-size:17.7px;line-height:23px;font-weight:bold;color:#fff;direction:ltr;transform:translateX(-50%) scaleX(0.9611)">14%</div>
<div id="g5" class="tx" style="left:925.00px;top:642.07px;font-size:17.7px;line-height:23px;font-weight:bold;color:#fff;direction:ltr;transform:translateX(-50%) scaleX(0.9718)">41%</div>
<div id="g6" class="tx" style="left:1069.60px;top:641.37px;font-size:17.7px;line-height:23px;font-weight:bold;color:#fff;direction:ltr;transform:translateX(-50%) scaleX(0.9725)">39%</div>
<div id="g7" class="tx" style="left:780.80px;top:723.67px;font-size:17.7px;line-height:23px;font-weight:bold;color:#fff;direction:ltr;transform:translateX(-50%) scaleX(0.9646)">11%</div>
<div id="g8" class="tx" style="left:926.00px;top:723.77px;font-size:17.7px;line-height:23px;font-weight:bold;color:#fff;direction:ltr;transform:translateX(-50%) scaleX(0.9491)">20%</div>
<div id="g9" class="tx" style="left:1070.60px;top:723.17px;font-size:17.7px;line-height:23px;font-weight:bold;color:#fff;direction:ltr;transform:translateX(-50%) scaleX(0.9946)">23%</div>
<div id="f1" class="tx" style="left:219.00px;top:782.06px;font-size:18px;line-height:23px;font-weight:bold;color:#eef2f6;direction:rtl;transform:translateX(-50%) scaleX(0.9007)">مديرية التحول الالكتروني وتكنولوجيا المعلومات</div>
<div id="f2" class="tx" style="left:698.70px;top:782.06px;font-size:18px;line-height:23px;font-weight:bold;color:#eef2f6;direction:rtl;transform:translateX(-50%) scaleX(0.9139)">بالتعاون مع الشبكة الشرق أوسطية للصحة المجتمعية - إمفنت</div>
<div id="f3" class="tx" style="left:1120.00px;top:782.06px;font-size:18px;line-height:23px;font-weight:bold;color:#eef2f6;direction:rtl;transform:translateX(-50%) scaleX(0.8856)">مديرية الأمراض السارية</div>
<div id="emph2" class="tx" style="left:126.30px;top:32.80px;font-size:7.5px;line-height:10px;font-weight:bold;color:#f2f5f8;direction:rtl;transform:translateX(-50%) scaleX(0.9284)">الشبكــة الشــرق أوسطيــة</div>
<div id="emph3" class="tx" style="left:110.30px;top:44.80px;font-size:7.5px;line-height:10px;font-weight:bold;color:#f2f5f8;direction:rtl;transform:translateX(-50%) scaleX(0.8643)">للصحـة المجتمعيــة</div>
</body></html>
